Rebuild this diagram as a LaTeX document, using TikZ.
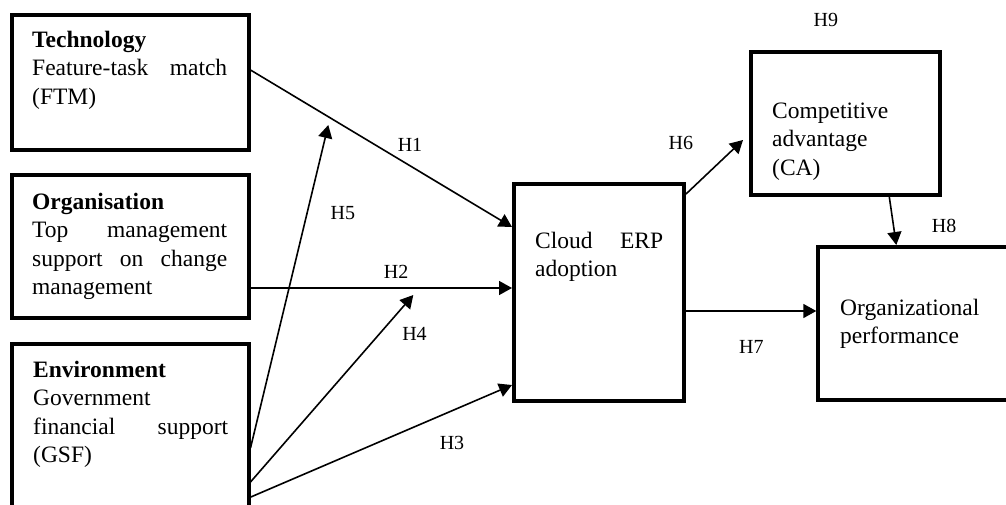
\documentclass[tikz,border=0pt]{standalone}
\usepackage{fontspec}
\setmainfont{Liberation Serif}
\usetikzlibrary{arrows.meta}
\newcommand{\fillline}[2]{\leavevmode\hbox to #1{#2}}
\begin{document}
\begin{tikzpicture}[x=1pt,y=-1pt,
  box/.style={draw, line width=4pt, inner sep=0pt, outer sep=2pt},
  link/.style={line width=1.6pt, -{Triangle[length=13pt,width=14pt]}},
  body/.style={inner sep=0pt, anchor=base west, text width=195pt, align=left,
    font=\fontsize{23.5}{28.5}\selectfont},
  hlabel/.style={inner sep=0pt, font=\fontsize{20}{24}\selectfont}]
\useasboundingbox (0,0) rectangle (1006,504);
\clip (0,0) rectangle (1006,504);
% boxes
\node[box, minimum width=236.5pt, minimum height=135pt] (tech) at (130.25,82.5) {};
\node[box, minimum width=236.5pt, minimum height=143.5pt] (org) at (130.25,246.25) {};
\node[box, minimum width=236.5pt, minimum height=186.5pt] (env) at (130.25,436.75) {};
\node[box, minimum width=170pt, minimum height=217pt] (cloud) at (599,292.5) {};
\node[box, minimum width=189pt, minimum height=143.3pt] (ca) at (845.5,123.35) {};
\node[box, minimum width=201.7pt, minimum height=153pt] (perf) at (919.15,323.5) {};
% texts
\node[body] (techtxt) at (32,47) {\textbf{Technology}\\
  \fillline{195pt}{Feature-task\hfill match}\\(FTM)};
\node[body] (orgtxt) at (32,209) {\textbf{Organisation}\\
  \fillline{195pt}{Top\hfill management}\\
  \fillline{195pt}{support\hfill on\hfill change}\\management};
\node[body] (envtxt) at (33,377) {\textbf{Environment}\\Government\\
  \fillline{195pt}{financial\hfill support}\\(GSF)};
\node[body] (cloudtxt) at (535,248) {\fillline{128pt}{Cloud\hfill ERP}\\adoption};
\node[body] (catxt) at (772,118) {Competitive\\advantage\\(CA)};
\node[body] (perftxt) at (840,315) {Organizational\\performance};
% free ends
\coordinate (h5end) at (328.3,125);
\coordinate (h4end) at (413.3,295);
% connectors
\draw[link] ([yshift=12.5pt]tech.east) -- ([yshift=65.5pt]cloud.west);
\draw[link] ([yshift=-41.75pt]org.east) -- ([yshift=4.5pt]cloud.west);
\draw[link] ([yshift=-106.5pt]env.north east) -- (h5end);
\draw[link] ([yshift=-140.5pt]env.north east) -- (h4end);
\draw[link] ([xshift=-2pt,yshift=-156.5pt]env.north east) -- ([yshift=-92.5pt]cloud.west);
\draw[link] ([yshift=-12pt]cloud.north east) -- (743,140);
\draw[link] ([yshift=-18.5pt]cloud.east) -- ([yshift=12.5pt]perf.west);
\draw[link] ([xshift=43.8pt]ca.south) -- ([xshift=80pt]perf.north west);
% labels
\node[hlabel] (h1) at (410,145.3) {H1};
\node[hlabel] (h5) at (342.8,212.7) {H5};
\node[hlabel] (h2) at (396.2,271.7) {H2};
\node[hlabel] (h4) at (414.5,334.3) {H4};
\node[hlabel] (h3) at (452,443) {H3};
\node[hlabel] (h6) at (680.8,143.3) {H6};
\node[hlabel] (h9) at (825.8,20.3) {H9};
\node[hlabel] (h8) at (944.2,226) {H8};
\node[hlabel] (h7) at (751.3,347) {H7};
\end{tikzpicture}
\end{document}
